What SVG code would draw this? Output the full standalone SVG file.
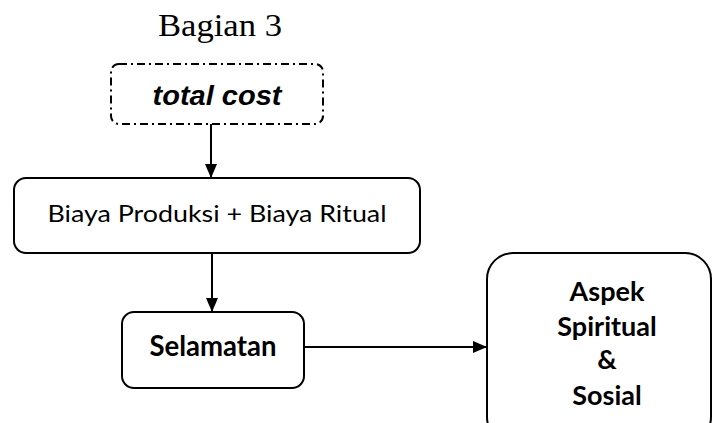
<svg xmlns="http://www.w3.org/2000/svg" width="713" height="423" viewBox="0 0 713 423">
<style>
.box{fill:#fff;stroke:#000;stroke-width:2}
.lbl{font-family:Lato,"Open Sans","Liberation Sans",sans-serif;fill:#000;text-anchor:middle}
.b{font-weight:bold}
.conn{stroke:#000;stroke-width:2;fill:none}
</style>
<defs>
<marker id="arr" viewBox="0 0 14 12" refX="14" refY="6" markerWidth="14" markerHeight="12" markerUnits="userSpaceOnUse" orient="auto">
<path d="M0,0 L14,6 L0,12 z" fill="#000"/>
</marker>
</defs>
<text x="220" y="36" font-family="'Liberation Serif',serif" font-size="31" text-anchor="middle" textLength="124" lengthAdjust="spacingAndGlyphs">Bagian 3</text>
<g id="total-cost">
<rect class="box" x="111" y="64" width="212" height="60" rx="8" stroke-dasharray="8,4,2,4" stroke-width="1.5"/>
<text x="217" y="105" font-family="'Liberation Sans',Arial,sans-serif" font-size="28" font-weight="bold" font-style="italic" text-anchor="middle" textLength="129" lengthAdjust="spacingAndGlyphs">total cost</text>
</g>
<g id="biaya">
<rect class="box" x="14" y="178" width="406" height="75" rx="12"/>
<text class="lbl" x="217" y="222" font-size="23.5" textLength="339" lengthAdjust="spacingAndGlyphs">Biaya Produksi + Biaya Ritual</text>
</g>
<g id="selamatan">
<rect class="box" x="122" y="312" width="182" height="76" rx="12"/>
<text class="lbl b" x="213" y="356" font-size="28" textLength="127" lengthAdjust="spacingAndGlyphs">Selamatan</text>
</g>
<g id="aspek">
<rect class="box" x="487" y="253" width="224" height="190" rx="26"/>
<text class="lbl b" x="607" y="301" font-size="27">Aspek</text>
<text class="lbl b" x="607" y="336" font-size="27">Spiritual</text>
<text class="lbl b" x="607" y="369" font-size="27">&amp;</text>
<text class="lbl b" x="607" y="405" font-size="27">Sosial</text>
</g>
<g id="connectors">
<line class="conn" x1="211" y1="124" x2="211" y2="178" marker-end="url(#arr)"/>
<line class="conn" x1="212" y1="253" x2="212" y2="312" marker-end="url(#arr)"/>
<line class="conn" x1="304" y1="347" x2="487" y2="347" marker-end="url(#arr)"/>
</g>
</svg>
